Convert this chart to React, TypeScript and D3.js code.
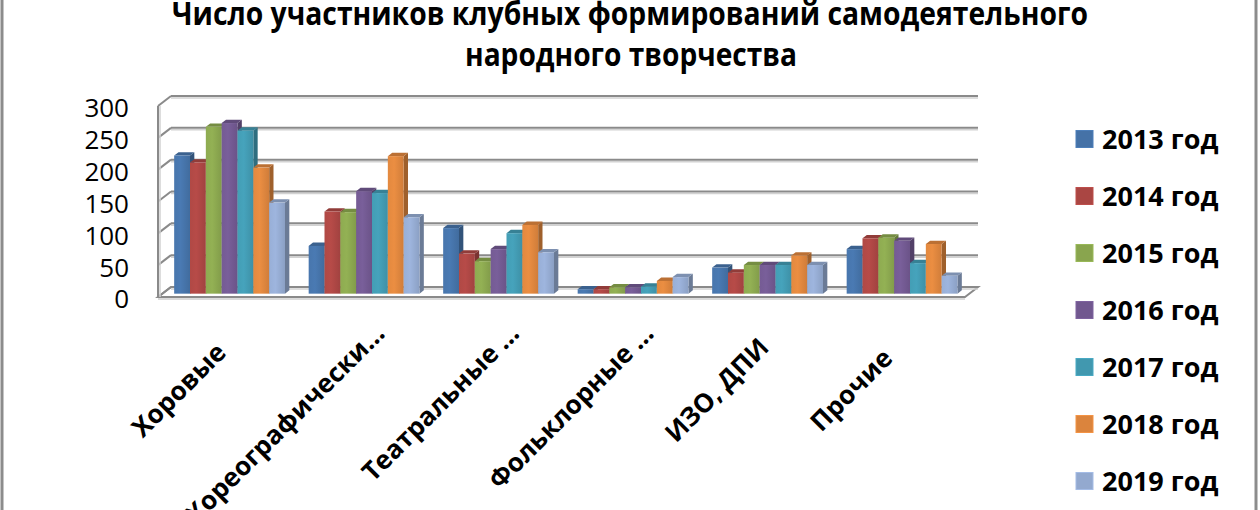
import React from 'react';
import * as d3 from 'd3';

const categories = ['Хоровые', 'Хореографически…', 'Театральные …', 'Фольклорные …', 'ИЗО, ДПИ', 'Прочие'];
const truncated = [false, true, true, true, false, false];

const years = ['2013 год', '2014 год', '2015 год', '2016 год', '2017 год', '2018 год', '2019 год'];
const colors = ['#4572A7', '#AA4643', '#89A54E', '#71588F', '#4198AF', '#DB843D', '#93A9CF'];

const v2013 = [217, 75, 103, 7, 41, 70];
const v2014 = [206, 129, 63, 7, 33, 87];
const v2015 = [262, 128, 51, 10, 45, 88];
const v2016 = [268, 161, 70, 10, 45, 83];
const v2017 = [256, 158, 95, 11, 45, 48];
const v2018 = [198, 216, 108, 20, 60, 78];
const v2019 = [143, 120, 65, 26, 45, 28];
const series = [v2013, v2014, v2015, v2016, v2017, v2018, v2019];

const yTicks = [0, 50, 100, 150, 200, 250, 300];

const W = 1260;
const H = 510;
// depth offset of the 3d floor (front -> back)
const DX = 13;
const DY = -10;
const FONT = '"Open Sans", "DejaVu Sans", sans-serif';

const App: React.FC = () => {
  const x = d3.scaleBand<string>().domain(categories).range([158, 965]).paddingInner(0.176).paddingOuter(0.088);
  const xs = d3.scaleBand<number>().domain(d3.range(years.length)).range([0, x.bandwidth()]);
  const y = d3.scaleLinear().domain([0, 300]).range([297, 106]);

  // bars sit between depth 1/3 and 2/3
  const bdx = DX / 3;
  const bdy = DY / 3;
  const [x0, x1] = x.range();

  const poly = (pts: [number, number][]) => pts.map(p => p.join(',')).join(' ');

  return (
    <svg width={W} height={H} style={{ position: 'fixed', left: 0, top: 0, background: '#fff' }} fontFamily={FONT}>
      <defs>
        {colors.map((c, i) => (
          <linearGradient key={i} id={`g${i}`} x1="0" x2="1" y1="0" y2="0">
            <stop offset="0%" stopColor={d3.color(c)!.brighter(0.1).formatHex()} />
            <stop offset="40%" stopColor={d3.color(c)!.brighter(0.2).formatHex()} />
            <stop offset="100%" stopColor={d3.color(c)!.darker(0.15).formatHex()} />
          </linearGradient>
        ))}
      </defs>
      <rect x={0} y={0} width={W} height={H} fill="#fff" />
      <rect x={2} y={-10} width={1254} height={530} fill="none" stroke="#8c8c8c" strokeWidth={3} />

      {/* title */}
      <text x={630} y={25} textAnchor="middle" fontSize={32} fontWeight="bold" textLength={916} lengthAdjust="spacingAndGlyphs">
        Число участников клубных формирований самодеятельного
      </text>
      <text x={631} y={66} textAnchor="middle" fontSize={32} fontWeight="bold" textLength={332} lengthAdjust="spacingAndGlyphs">
        народного творчества
      </text>

      {/* floor */}
      <polygon
        points={poly([[x0, y(0)], [x1, y(0)], [x1 + DX, y(0) + DY], [x0 + DX, y(0) + DY]])}
        fill="#fff"
        stroke="#8a8a8a"
        strokeWidth={2}
      />
      <line x1={x0} x2={x1} y1={y(0) + 2} y2={y(0) + 2} stroke="#cfcfcf" strokeWidth={1.5} />

      {/* wall gridlines */}
      {yTicks.map(t => (
        <g key={t}>
          <line x1={x0 + DX} x2={x1 + DX} y1={y(t) + DY + 2} y2={y(t) + DY + 2} stroke="#d2d2d2" strokeWidth={1.5} />
          <line x1={x0 + DX} x2={x1 + DX} y1={y(t) + DY} y2={y(t) + DY} stroke="#8a8a8a" strokeWidth={2} />
          <line x1={x0} x2={x0 + DX} y1={y(t)} y2={y(t) + DY} stroke="#8a8a8a" strokeWidth={2} />
        </g>
      ))}
      <line x1={x0 + 2} x2={x0 + 2} y1={y(300)} y2={y(0)} stroke="#d2d2d2" strokeWidth={1.5} />
      <line x1={x0} x2={x0} y1={y(300)} y2={y(0) + 1} stroke="#8a8a8a" strokeWidth={2} />

      {/* y tick labels */}
      {yTicks.map(t => (
        <text key={t} x={129} y={y(t) + 2} dy="0.36em" textAnchor="end" fontSize={26} fill="#000">
          {t}
        </text>
      ))}

      {/* bars */}
      {categories.map((c, ci) =>
        series.map((vals, si) => {
          const fx0 = (x(c) ?? 0) + xs(si)! + bdx;
          const fx1 = fx0 + xs.bandwidth();
          const top = y(vals[ci]) + bdy;
          const base = y(0) + bdy;
          const col = d3.color(colors[si])!;
          return (
            <g key={`${ci}-${si}`}>
              <polygon
                points={poly([[fx1, top], [fx1 + bdx, top + bdy], [fx1 + bdx, base + bdy], [fx1, base]])}
                fill={col.darker(0.9).formatHex()}
              />
              <polygon
                points={poly([[fx0, top], [fx1, top], [fx1 + bdx, top + bdy], [fx0 + bdx, top + bdy]])}
                fill={col.darker(0.45).formatHex()}
              />
              <rect x={fx0} y={top} width={fx1 - fx0} height={base - top} fill={`url(#g${si})`} />
            </g>
          );
        })
      )}

      {/* category labels */}
      {categories.map((c, ci) => {
        const cx = (x(c) ?? 0) + x.bandwidth() / 2 + DX / 2;
        if (truncated[ci]) {
          return (
            <text key={c} transform={`translate(${cx + 20},335) rotate(-45)`} textAnchor="end" fontSize={26} fontWeight="bold">
              {c}
            </text>
          );
        }
        return (
          <text key={c} transform={`translate(${cx - 53},390) rotate(-45)`} dy="0.35em" textAnchor="middle" fontSize={26} fontWeight="bold">
            {c}
          </text>
        );
      })}

      {/* legend */}
      {years.map((yr, i) => (
        <g key={yr} transform={`translate(1076,${139 + i * 57})`}>
          <rect x={0} y={-8.5} width={17} height={17} fill={colors[i]} stroke={d3.color(colors[i])!.brighter(0.3).formatHex()} strokeWidth={1} />
          <text x={26} y={0} dy="0.36em" fontSize={27} fontWeight="bold">
            {yr}
          </text>
        </g>
      ))}
    </svg>
  );
};

export default App;
